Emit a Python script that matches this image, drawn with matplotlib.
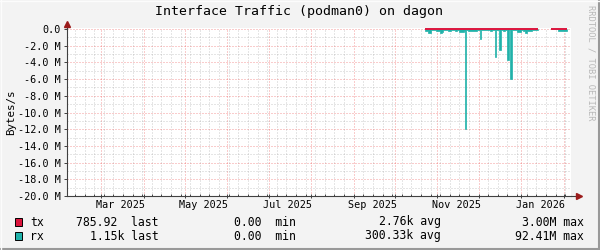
import matplotlib
matplotlib.use('Agg')
from matplotlib import pyplot as plt
from matplotlib import dates as mdates
from matplotlib.patches import Rectangle
from matplotlib.lines import Line2D
from matplotlib.ticker import MultipleLocator, FuncFormatter
import numpy as np
import pandas as pd

title = 'Interface Traffic (podman0) on dagon'
y_label = 'Bytes/s'
watermark = 'RRDTOOL / TOBI OETIKER'

# values in MB/s, one per day; rx is drawn below zero
seg1_start = '2025-10-23'
rx_seg1 = [0.28, 0.28, 0.50, 0.45, 0.15, 0.10, 0.12, 0.12, 0.28, 0.25,
           0.28, 0.44, 0.40, 0.10, 0.12, 0.12, 0.08, 0.28, 0.25, 0.10,
           0.08, 0.10, 0.28, 0.10, 0.08, 0.36, 0.30, 0.36, 0.20, 12.0,
           0.10, 0.20, 0.18, 0.20, 0.28, 0.25, 0.28, 0.22, 0.10, 0.08,
           1.25, 0.10, 0.12, 0.08, 0.10, 0.12, 0.10, 0.28, 0.25, 0.10,
           0.08, 3.30, 0.12, 0.10, 2.50, 0.10, 0.15, 0.20, 0.12, 0.10,
           3.70, 0.15, 6.00, 0.10, 0.15, 0.12, 0.10, 0.36, 0.30, 0.36,
           0.10, 0.28, 0.25, 0.50, 0.28, 0.25, 0.20, 0.18, 0.12, 0.10,
           0.12, 0.10]
tx_seg1 = [0.002, 0.003, 0.002, 0.004, 0.002, 0.001, 0.002, 0.002, 0.003, 0.002,
           0.002, 0.004, 0.003, 0.001, 0.002, 0.002, 0.001, 0.003, 0.002, 0.001,
           0.001, 0.002, 0.003, 0.001, 0.001, 0.003, 0.003, 0.003, 0.002, 0.010,
           0.001, 0.002, 0.002, 0.002, 0.003, 0.002, 0.003, 0.002, 0.001, 0.001,
           0.004, 0.001, 0.002, 0.001, 0.001, 0.002, 0.001, 0.003, 0.002, 0.001,
           0.001, 0.006, 0.002, 0.001, 0.005, 0.001, 0.002, 0.002, 0.002, 0.001,
           0.006, 0.002, 0.008, 0.001, 0.002, 0.002, 0.001, 0.003, 0.003, 0.003,
           0.001, 0.003, 0.002, 0.004, 0.003, 0.002, 0.002, 0.002, 0.002, 0.001,
           0.002, 0.001]
seg2_start = '2026-01-23'
rx_seg2 = [0.03, 0.03, 0.05, 0.03, 0.05, 0.20, 0.22, 0.20, 0.25, 0.20, 0.18]
tx_seg2 = [0.001, 0.001, 0.002, 0.001, 0.002, 0.002, 0.002, 0.002, 0.003, 0.002, 0.001]

x_start = '2025-02-04 06:00'
x_end = '2026-02-06 06:00'
y_min, y_max = -20, 0.12
month_labels = ['Mar 2025', 'May 2025', 'Jul 2025', 'Sep 2025', 'Nov 2025', 'Jan 2026']
label_dates = ['2025-03-15', '2025-05-15', '2025-07-15', '2025-09-15', '2025-11-15', '2026-01-15']

legend_names = ['tx', 'rx']
legend_last = ['785.92  last', '1.15k last']
legend_min = ['0.00  min', '0.00  min']
legend_avg = ['2.76k avg', '300.33k avg']
legend_max = ['3.00M max', '92.41M max']

tx_color = '#DC143C'
rx_color = '#20B2AA'
mono = 'DejaVu Sans Mono'
W, H = 600, 250


def fx(x):
    return x / W


def fy(y):
    return 1 - y / H


fig = plt.figure(figsize=(6, 2.5), dpi=100, facecolor='#F3F3F3')
ax = fig.add_axes([fx(67), fy(196), (571 - 67) / W, (196 - 28) / H])
ax.set_facecolor('white')

for start, rx, tx in [(seg1_start, rx_seg1, tx_seg1), (seg2_start, rx_seg2, tx_seg2)]:
    edges = mdates.date2num(pd.date_range(start, periods=len(rx) + 1, freq='D'))
    ax.stairs(-np.array(rx), edges, baseline=0, fill=True, facecolor=rx_color,
              edgecolor=rx_color, lw=0.5)
    ax.stairs(tx, edges, baseline=None, color=tx_color, lw=1.4)

ax.xaxis_date()
ax.set_xlim(mdates.date2num(pd.Timestamp(x_start)), mdates.date2num(pd.Timestamp(x_end)))
ax.set_ylim(y_min, y_max)

ax.xaxis.set_major_locator(mdates.MonthLocator())
ax.xaxis.set_minor_locator(mdates.WeekdayLocator(byweekday=mdates.MO))
ax.xaxis.set_major_formatter(FuncFormatter(lambda v, p: ''))
ax.yaxis.set_major_locator(MultipleLocator(2))
ax.yaxis.set_minor_locator(MultipleLocator(1))
ax.yaxis.set_major_formatter(FuncFormatter(lambda v, p: '0.0' if abs(v) < 1e-9 else f'{v:.1f} M'))

ax.set_axisbelow(True)
ax.grid(which='minor', color='#8F8F8F', alpha=0.45, lw=0.72, ls=(0, (1, 2)))
ax.grid(which='major', color='#E50000', alpha=0.4, lw=0.72, ls=(0, (1, 2)))

axis_color = '#404040'
for s in ['top', 'right']:
    ax.spines[s].set_visible(False)
for s in ['left', 'bottom']:
    ax.spines[s].set_color(axis_color)
    ax.spines[s].set_linewidth(0.8)

ax.tick_params(axis='y', which='major', length=2.2, width=0.7, pad=2.2, color=axis_color,
               labelsize=7.3, labelfontfamily=mono)
ax.tick_params(axis='y', which='minor', length=0)
ax.tick_params(axis='x', which='major', direction='inout', length=3, width=0.7, color=axis_color)
ax.tick_params(axis='x', which='minor', direction='in', length=1.5, width=0.7, color=axis_color)

for lab, d in zip(month_labels, label_dates):
    ax.text(mdates.date2num(pd.Timestamp(d)), -9 / 168, lab, transform=ax.get_xaxis_transform(),
            ha='center', va='center', fontsize=7.3, family=mono)

# axis arrows
arrow_color = '#9B1B1B'
ax.add_line(Line2D([1, 1 + 6 / 504], [0, 0], transform=ax.transAxes, color=axis_color, lw=0.8, clip_on=False))
ax.plot([1 + 7.5 / 504], [0], marker='>', ms=4, color=arrow_color, transform=ax.transAxes, clip_on=False)
ax.add_line(Line2D([0, 0], [1, 1 + 3 / 168], transform=ax.transAxes, color=axis_color, lw=0.8, clip_on=False))
ax.plot([0], [1 + 4.5 / 168], marker='^', ms=4, color=arrow_color, transform=ax.transAxes, clip_on=False)

fig.text(fx(299), fy(11), title, ha='center', va='center', fontsize=9.5, family=mono)
fig.text(fx(11), fy(112), y_label, ha='center', va='center', rotation=90, fontsize=7.8, family=mono)
fig.text(fx(591), fy(63), watermark, ha='center', va='center', rotation=270, fontsize=6.3,
         family=mono, color='#B8B8B8')

# legend
for i, (name, col) in enumerate(zip(legend_names, [tx_color, rx_color])):
    yc = 222 + 14 * i
    fig.add_artist(Rectangle((fx(15), fy(yc + 4)), 7 / W, 8 / H, transform=fig.transFigure,
                             facecolor=col, edgecolor='black', lw=0.7))
    fig.text(fx(30), fy(yc), name, ha='left', va='center', fontsize=8.3, family=mono)
    for txt, xr in [(legend_last[i], 158.5), (legend_min[i], 295.5),
                    (legend_avg[i], 440.5), (legend_max[i], 583.5)]:
        fig.text(fx(xr), fy(yc), txt, ha='right', va='center', fontsize=8.3, family=mono)

# 3d frame of the canvas
fig.add_artist(Line2D([0, 1], [fy(249), fy(249)], transform=fig.transFigure, color='#999999', lw=1.5))
fig.add_artist(Line2D([fx(599), fx(599)], [0, 1], transform=fig.transFigure, color='#999999', lw=1.5))
fig.add_artist(Line2D([0, 1], [fy(0.5), fy(0.5)], transform=fig.transFigure, color='#FCFCFC', lw=1))
fig.add_artist(Line2D([fx(0.5), fx(0.5)], [0, 1], transform=fig.transFigure, color='#FCFCFC', lw=1))

fig.savefig('out.png', dpi=100, facecolor=fig.get_facecolor())
